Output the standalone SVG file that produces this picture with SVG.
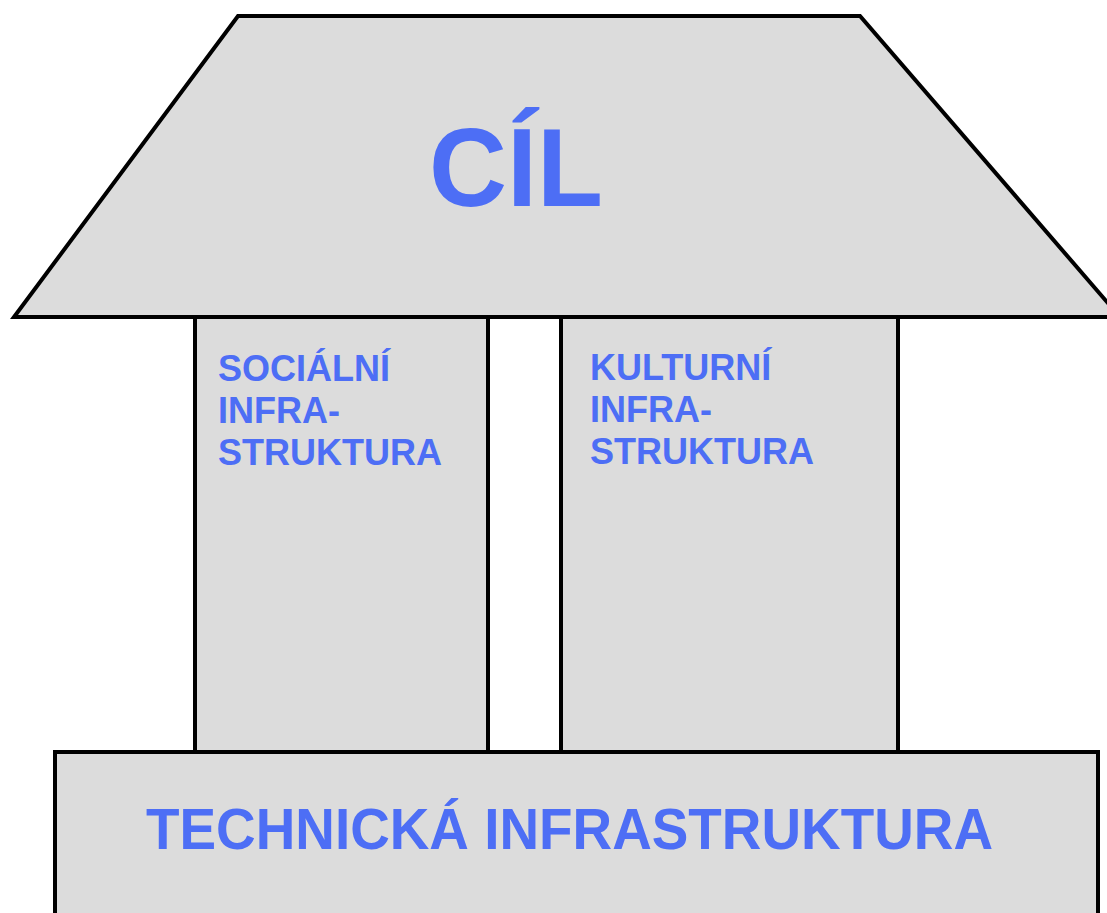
<svg xmlns="http://www.w3.org/2000/svg" width="1107" height="913" viewBox="0 0 1107 913">
<style>
.shape{fill:#dcdcdc;stroke:#000;stroke-width:4;stroke-linejoin:miter}
.lbl{font-family:"Liberation Sans",Arial,sans-serif;font-weight:bold;fill:#4d6ef5}
.small{font-size:36px}
</style>
<rect width="1107" height="913" fill="#fff"/>
<g id="connectors"></g>
<g id="social">
<rect class="shape" x="195" y="317" width="293" height="435"/>
<text class="lbl small" x="218"><tspan x="218" y="381">SOCIÁLNÍ</tspan><tspan x="218" y="423">INFRA-</tspan><tspan x="218" y="465">STRUKTURA</tspan></text>
</g>
<g id="cultural">
<rect class="shape" x="561" y="317" width="337" height="435"/>
<text class="lbl small" x="590"><tspan x="590" y="380">KULTURNÍ</tspan><tspan x="590" y="422">INFRA-</tspan><tspan x="590" y="464">STRUKTURA</tspan></text>
</g>
<g id="technical">
<rect class="shape" x="55" y="752" width="1043" height="180"/>
<text class="lbl" x="146" y="849" font-size="57" textLength="847" lengthAdjust="spacingAndGlyphs">TECHNICKÁ INFRASTRUKTURA</text>
</g>
<g id="goal">
<polygon class="shape" points="238,16 860,16 1120,317 14,317"/>
<text class="lbl" x="429" y="206" font-size="111" textLength="174" lengthAdjust="spacingAndGlyphs">CÍL</text>
</g>
</svg>
